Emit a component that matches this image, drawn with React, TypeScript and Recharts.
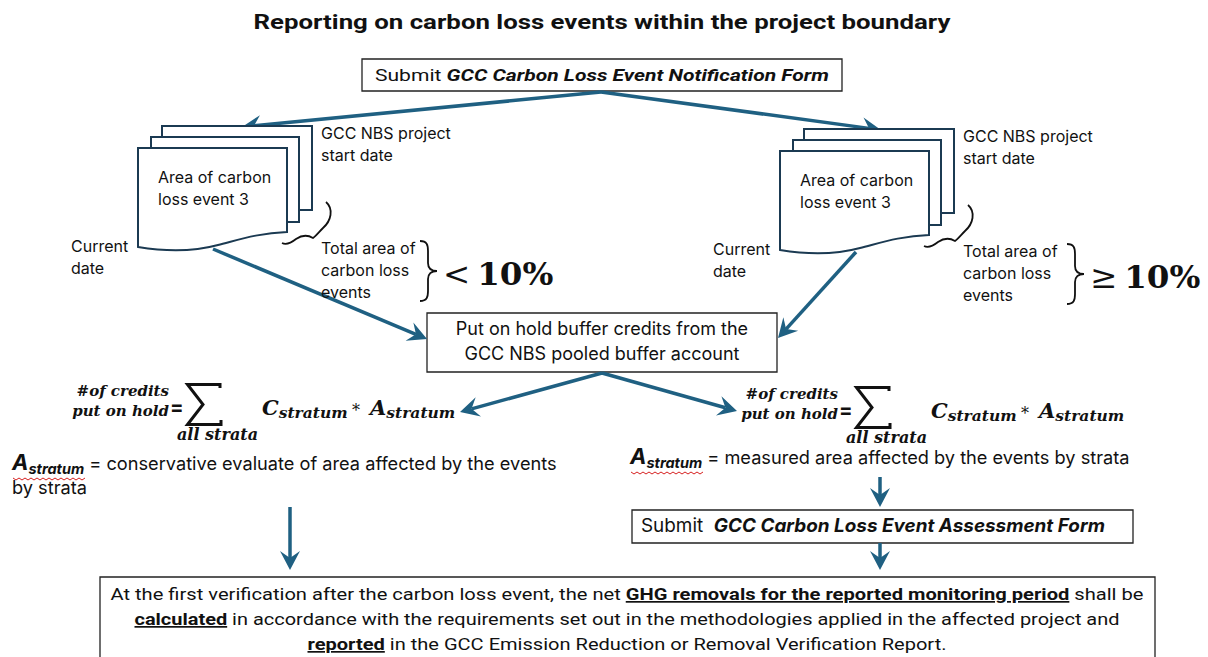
import React from "react";
import { ScatterChart, Scatter, XAxis, YAxis, ReferenceArea, ReferenceLine } from "recharts";

const W = 1208;
const H = 657;
const ARROW = "#1f6082";
const INK = "#111111";
const DOC = "#1b3a52";
const SANS = "Inter, 'Noto Sans', sans-serif";
const NARROW = "Roboto, 'Liberation Sans', sans-serif";
const MATH = "'DejaVu Serif', 'Liberation Serif', serif";

// ---- texts ----
const title = "Reporting on carbon loss events within the project boundary";
const notifyForm = ["Submit ", "GCC Carbon Loss Event Notification Form"];
const assessForm = ["Submit  ", "GCC Carbon Loss Event Assessment Form"];
const bufferBox = ["Put on hold buffer credits from the", "GCC NBS pooled buffer account"];
const docTitle = ["Area of carbon", "loss event 3"];
const startLabel = ["GCC NBS project", "start date"];
const currentLabel = ["Current", "date"];
const totalLabel = ["Total area of", "carbon loss", "events"];
const thresholdSigns = ["<", "≥"];
const thresholdValue = "10%";
const formulaLhs = ["#of credits", "put on hold"];
const formulaSum = "all strata";
const areaNotes = [
  ["conservative evaluate of area affected by the events", "by strata"],
  ["measured area affected by the events by strata"],
];
const verification: [string, boolean][][] = [
  [
    ["At the first verification after the carbon loss event, the net ", false],
    ["GHG removals for the reported monitoring period", true],
    [" shall be", false],
  ],
  [
    ["calculated", true],
    [" in accordance with the requirements set out in the methodologies applied in the affected project and", false],
  ],
  [
    ["reported", true],
    [" in the GCC Emission Reduction or Removal Verification Report.", false],
  ],
];

// ---- layout (diagram coordinates) ----
const boxes = [
  { x1: 362, y1: 59, x2: 842, y2: 91 },
  { x1: 427, y1: 313, x2: 777, y2: 372 },
  { x1: 632, y1: 510, x2: 1133, y2: 543 },
  { x1: 100, y1: 577, x2: 1155, y2: 700 },
];
const arrows = [
  [{ x: 601, y: 92 }, { x: 242, y: 127 }],
  [{ x: 601, y: 92 }, { x: 881, y: 130 }],
  [{ x: 213, y: 249 }, { x: 427, y: 339 }],
  [{ x: 856, y: 252 }, { x: 778, y: 338 }],
  [{ x: 602, y: 373 }, { x: 460, y: 412 }],
  [{ x: 602, y: 373 }, { x: 737, y: 411 }],
  [{ x: 290, y: 507 }, { x: 290, y: 570 }],
  [{ x: 880, y: 477 }, { x: 880, y: 507 }],
  [{ x: 880, y: 543 }, { x: 880, y: 570 }],
];
const docAnchors = [
  { x: 138, y: 148 },
  { x: 780, y: 151 },
];
const thresholdAnchors = [
  { x: 420, y: 241 },
  { x: 1067, y: 244 },
];
const formulaAnchors = [
  { x: 186, y: 383 },
  { x: 855, y: 386 },
];
const noteAnchors = [
  { x: 12, y: 470 },
  { x: 630, y: 464 },
];
const verifyLengths = [1033, 985, 639];

const titleNode = [{ x: 602, y: 29 }];
const notifyNode = [{ x: 602, y: 81 }];
const bufferNode = [{ x: 602, y: 335 }];
const assessNode = [{ x: 641, y: 532 }];
const verifyNode = [{ x: 627, y: 600 }];
const labelNodes = docAnchors.flatMap((a) => [
  { x: a.x + 20, y: a.y + 35, lines: docTitle },
  { x: a.x + 183, y: a.y - 9, lines: startLabel },
  { x: a.x - 67, y: a.y + 104, lines: currentLabel },
  { x: a.x + 183, y: a.y + 106, lines: totalLabel },
]);
const thresholdNodes = thresholdAnchors.map((a, i) => ({ ...a, sign: thresholdSigns[i] }));
const noteNodes = noteAnchors.map((a, i) => ({ ...a, lines: areaNotes[i] }));

type ShapeProps = { cx?: number; cy?: number; payload?: any };

const ArrowShape = (p: any) => {
  const { x1, y1, x2, y2 } = p;
  const ang = Math.atan2(y2 - y1, x2 - x1);
  const ux = Math.cos(ang);
  const uy = Math.sin(ang);
  const len = 19;
  const half = 10;
  const notch = 7;
  const bx = x2 - ux * len;
  const by = y2 - uy * len;
  const nx = x2 - ux * (len - notch);
  const ny = y2 - uy * (len - notch);
  const pts = [
    [x2, y2],
    [bx - uy * half, by + ux * half],
    [nx, ny],
    [bx + uy * half, by - ux * half],
  ]
    .map((q) => q.join(","))
    .join(" ");
  return (
    <g>
      <line x1={x1} y1={y1} x2={nx} y2={ny} stroke={ARROW} strokeWidth={3.5} />
      <polygon points={pts} fill={ARROW} />
    </g>
  );
};

const TitleShape = ({ cx = 0, cy = 0 }: ShapeProps) => (
  <text x={cx} y={cy} textAnchor="middle" fontFamily={NARROW} fontWeight={700} fontSize={21} fill={INK}
    textLength={697} lengthAdjust="spacingAndGlyphs">
    {title}
  </text>
);

const NotifyShape = ({ cx = 0, cy = 0 }: ShapeProps) => (
  <text x={cx} y={cy} textAnchor="middle" fontFamily={NARROW} fontSize={17} fill={INK}
    textLength={454} lengthAdjust="spacingAndGlyphs">
    {notifyForm[0]}
    <tspan fontWeight={700} fontStyle="italic">{notifyForm[1]}</tspan>
  </text>
);

const BufferShape = ({ cx = 0, cy = 0 }: ShapeProps) => (
  <text x={cx} y={cy} textAnchor="middle" fontFamily={SANS} fontSize={18} fill={INK}>
    {bufferBox.map((l, i) => (
      <tspan key={i} x={cx} dy={i === 0 ? 0 : 25}>{l}</tspan>
    ))}
  </text>
);

const AssessShape = ({ cx = 0, cy = 0 }: ShapeProps) => (
  <text x={cx} y={cy} fontFamily={SANS} fontSize={18.5} fill={INK} style={{ whiteSpace: "pre" }}
    textLength={464} lengthAdjust="spacingAndGlyphs">
    {assessForm[0]}
    <tspan fontWeight={700} fontStyle="italic">{assessForm[1]}</tspan>
  </text>
);

const VerifyShape = ({ cx = 0, cy = 0 }: ShapeProps) => (
  <g>
    {verification.map((line, i) => (
      <text key={i} x={cx} y={cy + i * 25} textAnchor="middle" fontFamily={NARROW} fontSize={17} fill={INK}
        textLength={verifyLengths[i]} lengthAdjust="spacingAndGlyphs" style={{ whiteSpace: "pre" }}>
        {line.map(([t, strong], j) =>
          strong ? (
            <tspan key={j} fontWeight={700} style={{ textDecoration: "underline" }}>{t}</tspan>
          ) : (
            <tspan key={j}>{t}</tspan>
          )
        )}
      </text>
    ))}
  </g>
);

const LabelShape = ({ cx = 0, cy = 0, payload }: ShapeProps) => (
  <text x={cx} y={cy} fontFamily={SANS} fontSize={16} fill={INK}>
    {(payload?.lines ?? []).map((l: string, i: number) => (
      <tspan key={i} x={cx} dy={i === 0 ? 0 : 22}>{l}</tspan>
    ))}
  </text>
);

const smallBrace = "M13,-36 C21,-29 18,-17 10,-10 C6,-6 3,-2 0,0 C-5,-3 -11,-3 -17,1 C-22,5 -27,7 -31,5";
const bigBrace = "M0,0 C7,0 8,4 8,10 L8,22 C8,27 11,30 17,30 C11,30 8,33 8,38 L8,50 C8,56 7,60 0,60";

const DocShape = ({ cx = 0, cy = 0 }: ShapeProps) => (
  <g transform={`translate(${cx},${cy})`}>
    <g fill="#ffffff" stroke={DOC} strokeWidth={2}>
      <rect x={24} y={-22} width={150} height={84} />
      <rect x={13} y={-11} width={148} height={85} />
      <path d="M0,0 H149 V84 C120,85 100,92 80,97 C58,103 30,104 0,99 Z" />
    </g>
    <path d={smallBrace} transform="translate(175,90)" fill="none" stroke={INK} strokeWidth={1.8} />
  </g>
);

const ThresholdShape = ({ cx = 0, cy = 0, payload }: ShapeProps) => (
  <g transform={`translate(${cx},${cy})`}>
    <path d={bigBrace} fill="none" stroke={INK} strokeWidth={1.8} />
    <text x={23} y={44} fontFamily={MATH} fontSize={32.5} fill={INK}>
      {payload?.sign}
      <tspan dx={7} fontWeight={700}>{thresholdValue}</tspan>
    </text>
  </g>
);

const FormulaShape = ({ cx = 0, cy = 0 }: ShapeProps) => (
  <g transform={`translate(${cx},${cy})`} fill={INK}>
    <text fontFamily={MATH} fontStyle="italic" fontWeight={700} fontSize={15} textAnchor="end">
      <tspan x={-17} y={13}>{formulaLhs[0]}</tspan>
      <tspan x={-17} y={33}>{formulaLhs[1]}</tspan>
    </text>
    <text x={-16} y={31} fontFamily={SANS} fontWeight={700} fontSize={20}>=</text>
    <path d="M34,5 L34,1.5 L1.5,1.5 L17,21.5 L1.5,41.5 L35,41.5 L35,37" fill="none" stroke={INK} strokeWidth={3} />
    <text x={-9} y={57} fontFamily={MATH} fontStyle="italic" fontWeight={700} fontSize={16}>{formulaSum}</text>
    <text x={76} y={32} fontFamily={MATH} fontStyle="italic" fontWeight={700}>
      <tspan fontSize={21}>C</tspan>
      <tspan fontSize={15.5} dy={3}>stratum</tspan>
    </text>
    <text x={166} y={33} fontFamily={MATH} fontSize={16}>*</text>
    <text x={184} y={32} fontFamily={MATH} fontStyle="italic" fontWeight={700}>
      <tspan fontSize={21}>A</tspan>
      <tspan fontSize={15.5} dy={3}>stratum</tspan>
    </text>
  </g>
);

const wavy = (() => {
  let d = "M0,0";
  for (let i = 1; i <= 24; i++) d += ` L${i * 3},${i % 2 ? 2 : 0}`;
  return d;
})();

const NoteShape = ({ cx = 0, cy = 0, payload }: ShapeProps) => {
  const lines: string[] = payload?.lines ?? [];
  return (
    <g>
      <text x={cx} y={cy} fontFamily={SANS} fill={INK} style={{ whiteSpace: "pre" }}>
        <tspan fontSize={22} fontWeight={700} fontStyle="italic">A</tspan>
        <tspan fontSize={14.5} fontWeight={700} fontStyle="italic" dy={4}>stratum</tspan>
        <tspan fontSize={18.2} dy={-4}>{" = " + lines[0]}</tspan>
      </text>
      {lines.slice(1).map((l, i) => (
        <text key={i} x={cx} y={cy + 24 * (i + 1)} fontFamily={SANS} fontSize={18.2} fill={INK}>{l}</text>
      ))}
      <path d={wavy} transform={`translate(${cx + 1},${cy + 8})`} fill="none" stroke="#d62020" strokeWidth={1} />
    </g>
  );
};

export default function App() {
  return (
    <div style={{ width: W, height: H, background: "#ffffff" }}>
      <style>{`body{margin:0}`}</style>
      <ScatterChart width={W} height={H} margin={{ top: 0, right: 0, bottom: 0, left: 0 }}>
        <XAxis type="number" dataKey="x" domain={[0, W]} allowDataOverflow hide />
        <YAxis type="number" dataKey="y" domain={[0, H]} allowDataOverflow reversed hide />
        {boxes.map((b, i) => (
          <ReferenceArea key={`box-${i}`} x1={b.x1} x2={b.x2} y1={b.y1} y2={b.y2} ifOverflow="visible"
            fill="#ffffff" fillOpacity={1} stroke="#222222" strokeWidth={1.3} />
        ))}
        {arrows.map((seg, i) => (
          <ReferenceLine key={`arr-${i}`} segment={seg} ifOverflow="visible" shape={ArrowShape} />
        ))}
        <Scatter data={docAnchors} shape={DocShape} isAnimationActive={false} />
        <Scatter data={titleNode} shape={TitleShape} isAnimationActive={false} />
        <Scatter data={notifyNode} shape={NotifyShape} isAnimationActive={false} />
        <Scatter data={bufferNode} shape={BufferShape} isAnimationActive={false} />
        <Scatter data={assessNode} shape={AssessShape} isAnimationActive={false} />
        <Scatter data={verifyNode} shape={VerifyShape} isAnimationActive={false} />
        <Scatter data={labelNodes} shape={LabelShape} isAnimationActive={false} />
        <Scatter data={thresholdNodes} shape={ThresholdShape} isAnimationActive={false} />
        <Scatter data={formulaAnchors} shape={FormulaShape} isAnimationActive={false} />
        <Scatter data={noteNodes} shape={NoteShape} isAnimationActive={false} />
      </ScatterChart>
    </div>
  );
}
